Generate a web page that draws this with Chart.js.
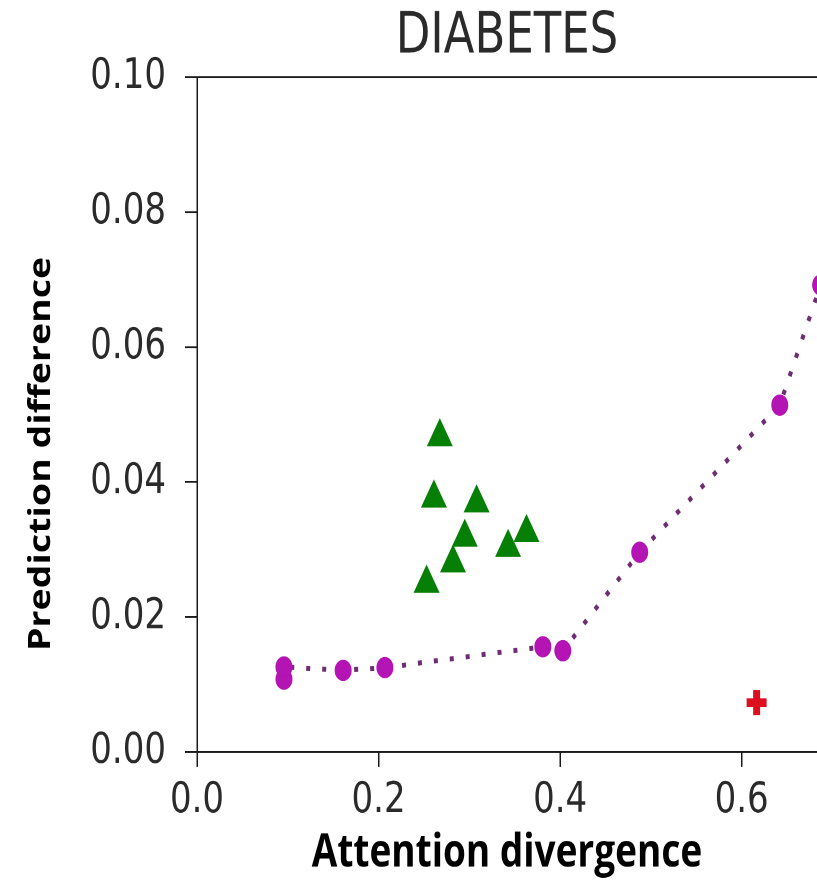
<!DOCTYPE html>
<html>
<head>
<meta charset="utf-8">
<script src="https://cdn.jsdelivr.net/npm/chart.js@4.4.1/dist/chart.umd.min.js"></script>
<style>
  html { margin: 0; padding: 0; background: #ffffff; overflow: hidden; }
  body { margin: 0; padding: 0; background: #ffffff; width: 817px; height: 884px; }
  #wrap { width: 817px; height: 707px; transform: scaleY(1.2504); transform-origin: 0 0; }
  canvas { display: block; }
</style>
</head>
<body>
<div id="wrap"><canvas id="c" width="817" height="707"></canvas></div>
<script>
// ---- data ----
const triangleX = [0.2675, 0.261, 0.308, 0.295, 0.282, 0.2529, 0.3427, 0.363];
const triangleY = [0.0467, 0.0376, 0.0369, 0.0318, 0.0280, 0.0250, 0.0303, 0.0325];

const curveX = [0.0958, 0.0958, 0.161, 0.207, 0.381, 0.403, 0.4877, 0.642, 0.687];
const curveY = [0.0108, 0.0126, 0.0121, 0.0125, 0.0156, 0.0150, 0.0296, 0.0514, 0.0692];

const plusX = [0.6165];
const plusY = [0.0073];

const xTickValues = [0.0, 0.2, 0.4, 0.6];
const yTickValues = [0.00, 0.02, 0.04, 0.06, 0.08, 0.10];

const xRange = [0, 0.683];
const yRange = [0, 0.10];

const chartTitle = 'DIABETES';
const xLabel = 'Attention divergence';
const yLabel = 'Prediction difference';
// --------------------------------------

const toPts = (xs, ys) => xs.map((x, i) => ({ x: x, y: ys[i] }));
const axisColor = '#1a1a1a';
const tickFont = { family: 'DejaVu Sans', size: 34 };

new Chart(document.getElementById('c'), {
  type: 'scatter',
  data: {
    datasets: [
      {
        data: toPts(curveX, curveY),
        showLine: true,
        borderColor: '#6e2c72',
        borderWidth: 4,
        borderDash: [4, 12],
        pointStyle: 'circle',
        pointRadius: 8,
        pointBackgroundColor: '#b414b4',
        pointBorderColor: '#b414b4',
        pointBorderWidth: 1
      },
      {
        data: toPts(triangleX, triangleY),
        pointStyle: 'triangle',
        pointRadius: 14,
        pointBackgroundColor: '#067f06',
        pointBorderColor: '#067f06',
        pointBorderWidth: 1
      },
      {
        data: toPts(plusX, plusY),
        pointStyle: 'cross',
        pointRadius: 10,
        pointBorderColor: '#dc0f1e',
        pointBorderWidth: 7
      }
    ]
  },
  options: {
    responsive: false,
    animation: false,
    devicePixelRatio: 2,
    layout: { autoPadding: false, padding: { top: 0, right: 0, bottom: -19, left: 0 } },
    plugins: {
      legend: { display: false },
      tooltip: { enabled: false },
      title: {
        display: true,
        text: yLabel,
        position: 'left',
        color: '#000',
        font: { family: 'Open Sans', size: 30, weight: 'bold' },
        padding: { top: 23.5, bottom: 0 }
      }
    },
    scales: {
      x: {
        type: 'linear',
        position: 'bottom',
        min: xRange[0],
        max: xRange[1],
        afterBuildTicks: (s) => { s.ticks = xTickValues.map(v => ({ value: v })); },
        afterFit: (s) => { s.height = 124.6; },
        ticks: {
          color: '#2a2a2a',
          font: tickFont,
          padding: 7,
          maxRotation: 0,
          callback: (v) => Number(v).toFixed(1)
        },
        grid: { display: true, drawOnChartArea: false, drawTicks: true, tickLength: 12, color: axisColor, lineWidth: 1.5 },
        border: { display: true, color: axisColor, width: 1.5 },
        title: {
          display: true,
          text: xLabel,
          color: '#000',
          font: { family: 'Open Sans', size: 37, weight: 'bold' },
          padding: { top: 0, bottom: 21.5 }
        }
      },
      x2: {
        type: 'linear',
        position: 'top',
        min: xRange[0],
        max: xRange[1],
        afterFit: (s) => { s.height = 61.6; },
        ticks: { display: false },
        grid: { display: false },
        border: { display: true, color: axisColor, width: 1.5 },
        title: {
          display: true,
          text: chartTitle,
          color: '#2a2a2a',
          font: { family: 'DejaVu Sans', size: 45 },
          padding: { top: 3.2, bottom: 0 }
        }
      },
      y: {
        type: 'linear',
        position: 'left',
        min: yRange[0],
        max: yRange[1],
        afterBuildTicks: (s) => { s.ticks = yTickValues.map(v => ({ value: v })); },
        afterFit: (s) => { s.width = 137.5; },
        ticks: {
          color: '#2a2a2a',
          font: tickFont,
          padding: 19,
          callback: (v) => Number(v).toFixed(2)
        },
        grid: { display: true, drawOnChartArea: false, drawTicks: true, tickLength: 12, color: axisColor, lineWidth: 1.5 },
        border: { display: true, color: axisColor, width: 1.5 }
      }
    }
  }
});
</script>
</body>
</html>
